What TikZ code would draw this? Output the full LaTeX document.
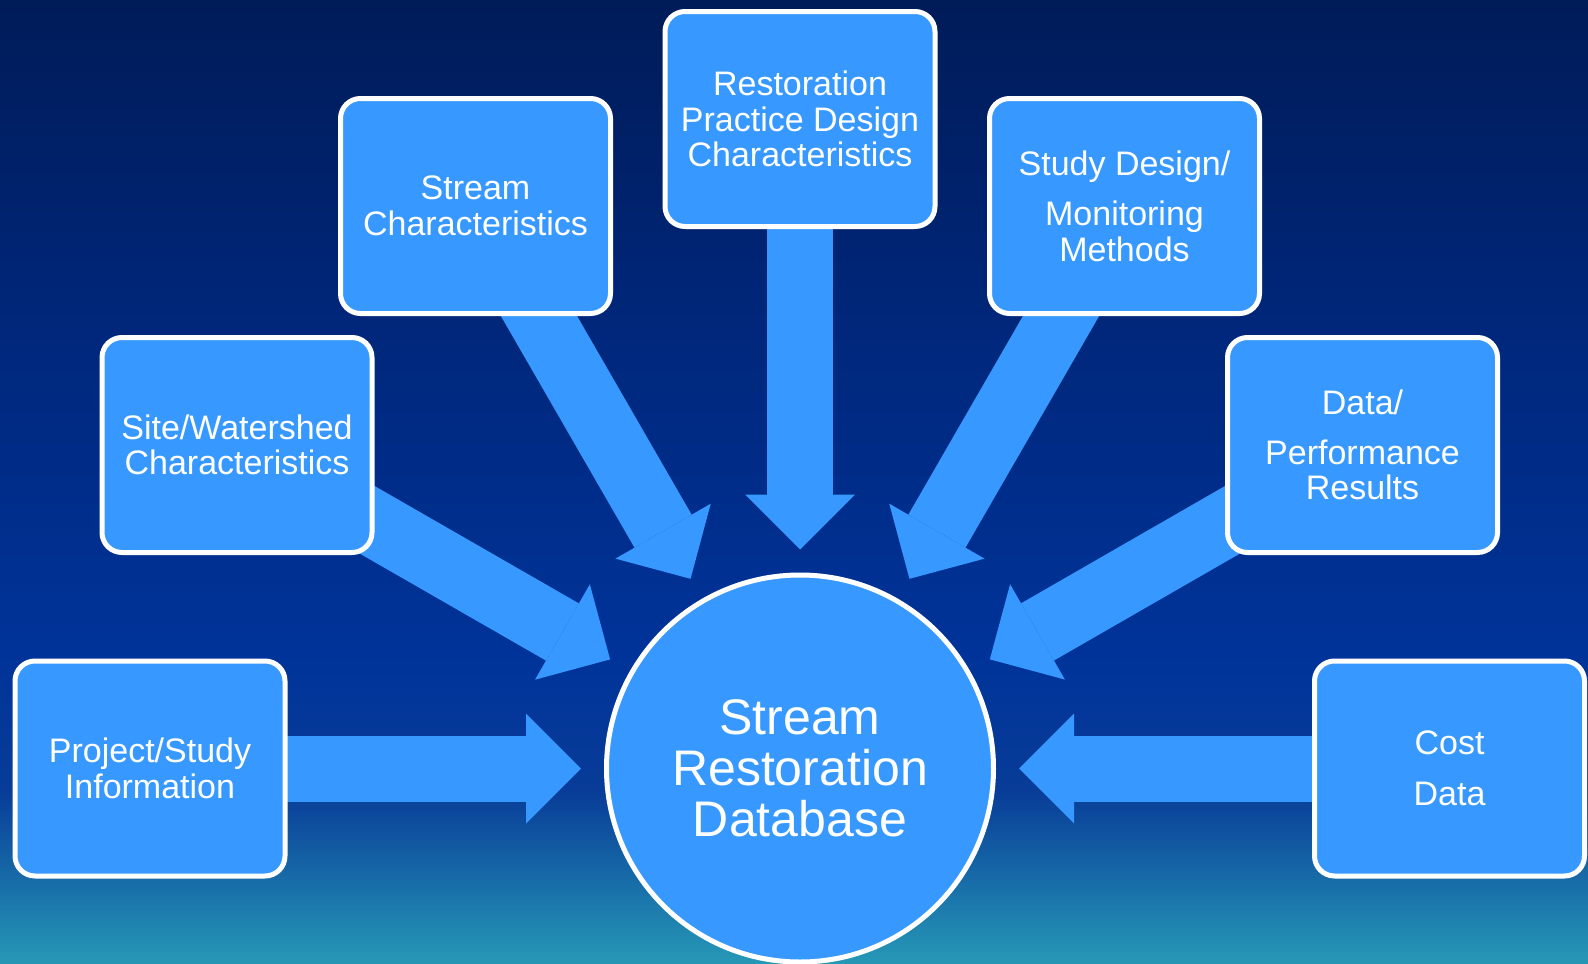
\documentclass[tikz,border=0pt]{standalone}
\usepackage{fontspec}
\setmainfont{Liberation Sans}
\usetikzlibrary{arrows.meta,calc}
\definecolor{boxblue}{RGB}{55,153,255}
\definecolor{bgtop}{RGB}{0,27,88}
\definecolor{bgmidA}{RGB}{0,38,120}
\definecolor{bgmid}{RGB}{0,51,153}
\definecolor{bglow}{RGB}{8,60,152}
\definecolor{bgteal}{RGB}{38,153,182}
\pgfdeclareverticalshading{bgshade}{100bp}{color(0bp)=(bgteal); color(25bp)=(bgteal); color(34bp)=(bglow); color(41.3bp)=(bgmid); color(59.4bp)=(bgmidA); color(75bp)=(bgtop); color(100bp)=(bgtop)}
\pgfdeclarelayer{bglayer}
\pgfdeclarelayer{arrowlayer}
\pgfsetlayers{bglayer,arrowlayer,main}
\tikzset{
  infobox/.style={rectangle, rounded corners=20pt, draw=white, line width=5pt, fill=boxblue,
    minimum width=270pt, minimum height=215pt, text=white, align=center, inner sep=0pt,
    font=\fontsize{34}{35.5}\selectfont},
  hub/.style={circle, draw=white, line width=5pt, fill=boxblue, minimum size=387pt, text=white,
    align=center, inner sep=0pt, font=\fontsize{50}{51}\selectfont},
  feed/.style={draw=boxblue, line width=66pt, -{Triangle[width=110pt,length=55pt,line width=0pt]}}
}
\begin{document}
\begin{tikzpicture}[x=1pt,y=-1pt]
\useasboundingbox (0,0) rectangle (1588,964);
\begin{pgfonlayer}{bglayer}
\shade[shading=bgshade] (0,0) rectangle (1588,964);
\end{pgfonlayer}
\node[hub] (db) at (800,768.5) {Stream\\Restoration\\Database};
\node[infobox] (proj) at (150,768.5) {Project/Study\\Information};
\node[infobox] (site) at (237,445) {Site/Watershed\\Characteristics};
\node[infobox] (strm) at (475.5,206) {Stream\\Characteristics};
\node[infobox] (rest) at (800,119) {Restoration\\Practice Design\\Characteristics};
\node[infobox] (stud) at (1124.5,206) {Study Design/\\[15pt]Monitoring\\Methods};
\node[infobox] (data) at (1362.5,445) {Data/\\[14pt]Performance\\Results};
\node[infobox] (cost) at (1449.5,768.5) {Cost\\[15pt]Data};
\foreach \b in {proj,site,strm,rest,stud,data,cost}{
  \coordinate (tip-\b) at ($(db.center)!219pt!(\b.center)$);
}
\begin{pgfonlayer}{arrowlayer}
\foreach \b in {proj,site,strm,rest,stud,data,cost}{
  \draw[feed] (\b.center) -- (tip-\b);
}
\end{pgfonlayer}
\end{tikzpicture}
\end{document}
